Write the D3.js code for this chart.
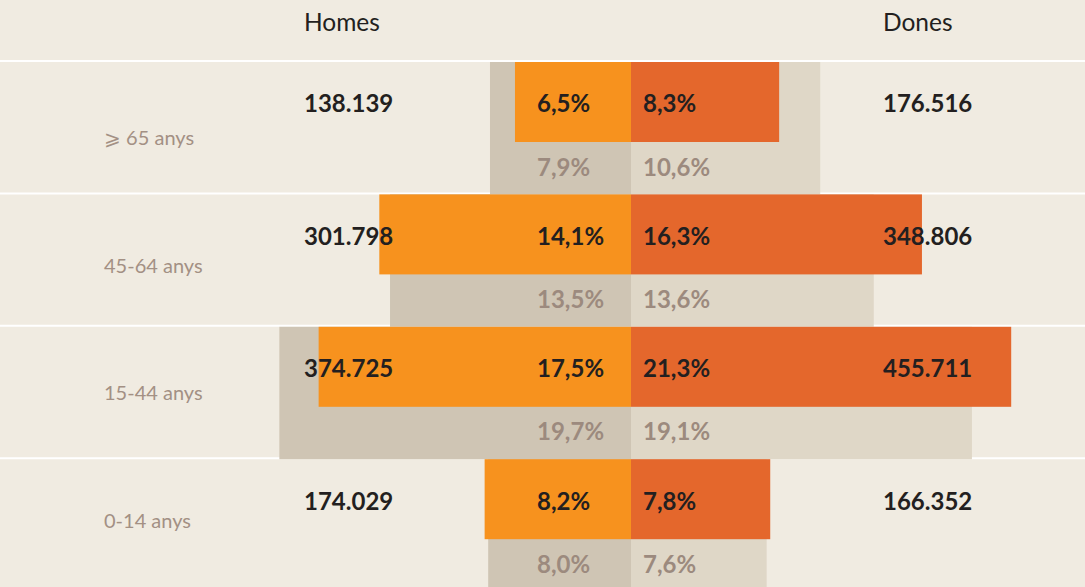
<!DOCTYPE html>
<html>
<head>
<meta charset="utf-8">
<script src="https://cdn.jsdelivr.net/npm/d3@7"></script>
<style>
  html, body { margin: 0; padding: 0; background: #f0ebe1; }
  svg { display: block; font-family: Lato, "Open Sans", sans-serif; }
</style>
</head>
<body>
<svg width="1085" height="587"></svg>
<script>
// Data
const ages = ["⩾ 65 anys", "45-64 anys", "15-44 anys", "0-14 anys"];
const menPop = [138139, 301798, 374725, 174029];
const womenPop = [176516, 348806, 455711, 166352];
const menPct = [6.5, 14.1, 17.5, 8.2];
const womenPct = [8.3, 16.3, 21.3, 7.8];
// comparison shares (light bars)
const menRef = [7.9, 13.5, 19.7, 8.0];
const womenRef = [10.6, 13.6, 19.1, 7.6];
const headers = ["Homes", "Dones"];

const svg = d3.select("svg"),
    width = +svg.attr("width"),
    height = +svg.attr("height");

const locale = d3.formatLocale({decimal: ",", thousands: ".", grouping: [3], currency: ["", ""]});
const fmtPct = v => locale.format(".1f")(v) + "%";
const fmtNum = locale.format(",d");

const cx = 631;
const pxPerPct = 17.85;

// scales
const xMen = d3.scaleLinear().domain([0, 1]).range([cx, cx - pxPerPct]);
const xWomen = d3.scaleLinear().domain([0, 1]).range([cx, cx + pxPerPct]);
const y = d3.scaleBand().domain(ages).range([61, 61 + 4 * 132.4]).paddingInner(0);
// age labels sit slightly higher as the rows go down
const yLabel = d3.scalePoint().domain(ages).range([138, 521]);

const rows = ages.map((a, i) => ({
  age: a, menPop: menPop[i], womenPop: womenPop[i],
  menPct: menPct[i], womenPct: womenPct[i],
  menRef: menRef[i], womenRef: womenRef[i]
}));

const barH = 80;

// row separator lines
svg.append("g")
  .selectAll("line")
  .data(rows)
  .join("line")
    .attr("x1", 0)
    .attr("x2", width)
    .attr("y1", d => y(d.age))
    .attr("y2", d => y(d.age))
    .attr("stroke", "#ffffff")
    .attr("stroke-width", 2);

// light bars (full row height)
const g = svg.append("g");
g.selectAll(".refMen")
  .data(rows)
  .join("rect")
    .attr("x", d => xMen(d.menRef))
    .attr("y", d => y(d.age) + 1)
    .attr("width", d => cx - xMen(d.menRef))
    .attr("height", y.bandwidth())
    .attr("fill", "#cfc5b4");
g.selectAll(".refWomen")
  .data(rows)
  .join("rect")
    .attr("x", cx)
    .attr("y", d => y(d.age) + 1)
    .attr("width", d => xWomen(d.womenRef) - cx)
    .attr("height", y.bandwidth())
    .attr("fill", "#dfd7c7");

// main bars
g.selectAll(".men")
  .data(rows)
  .join("rect")
    .attr("x", d => xMen(d.menPct))
    .attr("y", d => y(d.age) + 1)
    .attr("width", d => cx - xMen(d.menPct))
    .attr("height", barH)
    .attr("fill", "#f7921e");
g.selectAll(".women")
  .data(rows)
  .join("rect")
    .attr("x", cx)
    .attr("y", d => y(d.age) + 1)
    .attr("width", d => xWomen(d.womenPct) - cx)
    .attr("height", barH)
    .attr("fill", "#e4672c");

// headers
svg.selectAll(".hdr")
  .data(headers)
  .join("text")
    .attr("x", (d, i) => i === 0 ? 304 : 883)
    .attr("y", 31)
    .attr("font-size", 24.5)
    .attr("fill", "#231f20")
    .text(d => d);

// labels
const t = svg.append("g");
const topY = d => y(d.age) + 3 + barH / 2;
const lowY = d => y(d.age) + barH + (y.bandwidth() - barH) / 2;

t.selectAll(".age")
  .data(rows)
  .join("text")
    .attr("x", 104)
    .attr("y", d => yLabel(d.age))
    .attr("dy", "0.35em")
    .attr("font-size", 20)
    .attr("fill", "#a39084")
    .text(d => d.age);

const bold = (sel, data, x, yf, color, txt) => sel.selectAll(null)
  .data(data)
  .join("text")
    .attr("x", x)
    .attr("y", yf)
    .attr("dy", "0.35em")
    .attr("font-size", 24)
    .attr("font-weight", "bold")
    .attr("fill", color)
    .text(txt);

bold(t, rows, 304, topY, "#231f20", d => fmtNum(d.menPop));
bold(t, rows, 883, topY, "#231f20", d => fmtNum(d.womenPop));
bold(t, rows, 537, topY, "#231f20", d => fmtPct(d.menPct));
bold(t, rows, 643, topY, "#231f20", d => fmtPct(d.womenPct));
bold(t, rows, 537, lowY, "#9c8a7e", d => fmtPct(d.menRef));
bold(t, rows, 643, lowY, "#9c8a7e", d => fmtPct(d.womenRef));
</script>
</body>
</html>
